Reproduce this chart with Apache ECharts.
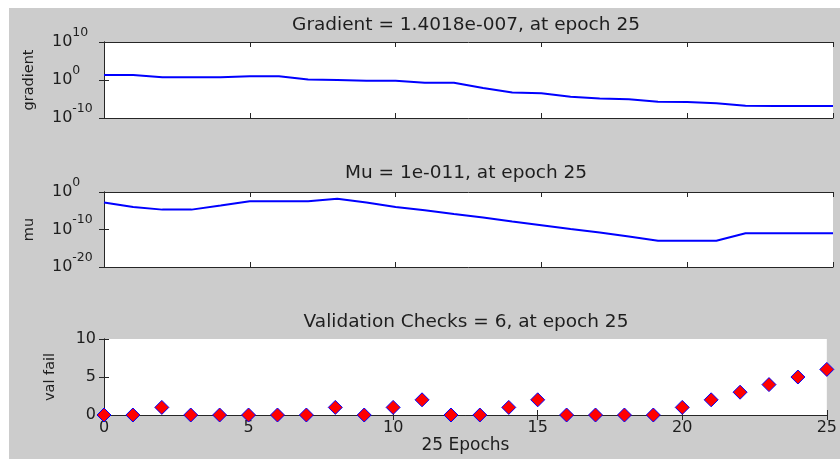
<!DOCTYPE html>
<html><head><meta charset="utf-8">
<script src="https://cdn.jsdelivr.net/npm/echarts@6/dist/echarts.min.js"></script>
<style>
html,body{margin:0;padding:0;background:#ffffff;width:840px;height:459px;overflow:hidden}
#c{position:absolute;left:9px;top:8px;width:831px;height:451px;background:#cccccc}
</style>
</head><body><div id="c"></div>
<script>
const epochs = [0,1,2,3,4,5,6,7,8,9,10,11,12,13,14,15,16,17,18,19,20,21,22,23,24,25];
const gradient = [20,20,5,5,5,10,10,1.3,1,0.63,0.63,0.2,0.2,0.008,5e-4,3.2e-4,4e-5,1.3e-5,8e-6,2e-6,1.6e-6,8e-7,1.6e-7,1.4018e-7,1.4018e-7,1.4018e-7];
const mu = [1.6e-3,1e-4,2e-5,2e-5,2.5e-4,3.2e-3,3.2e-3,3.2e-3,1.6e-2,1.6e-3,1e-4,1.3e-5,1.3e-6,1.6e-7,1.3e-8,1.3e-9,1.3e-10,1.6e-11,1.3e-12,1e-13,1e-13,1e-13,1e-11,1e-11,1e-11,1e-11];
const valFail = [0,0,1,0,0,0,0,0,1,0,1,2,0,0,1,2,0,0,0,0,1,2,3,4,5,6];
const titles = ['Gradient = 1.4018e-007, at epoch 25','Mu = 1e-011, at epoch 25','Validation Checks = 6, at epoch 25'];
const yNames = ['gradient','mu','val fail'];
const xName = '25 Epochs';

const FONT = 'DejaVu Sans';
const TXT = '#1e1e1e';
const AX = '#262626';
const chart = echarts.init(document.getElementById('c'), null, {renderer:'canvas'});

const grids = [
  {left:95, top:34, width:729, height:76},
  {left:95, top:184, width:729, height:75},
  {left:95, top:331, width:729, height:76}
].map(g => Object.assign({show:true, backgroundColor:'#ffffff', borderWidth:0, containLabel:false}, g));

function expLabel(v){
  const e = Math.round(Math.log10(v));
  return '{b|10}{s|' + e + '}';
}
const rich = {
  b:{fontSize:16, fontFamily:FONT, color:TXT, lineHeight:32},
  s:{fontSize:12.5, fontFamily:FONT, color:TXT, verticalAlign:'top'}
};

const xAxis = [], yAxis = [];
for (let i = 0; i < 3; i++) {
  const last = i === 2;
  const base = {type:'value', gridIndex:i, min:0, max:25, interval:5,
    axisLine:{show:true, lineStyle:{color:AX, width:1}},
    axisTick:{show:true, inside:true, length:5, lineStyle:{color:AX}},
    splitLine:{show:false}};
  xAxis.push(Object.assign({}, base, {position:'bottom',
    axisLabel:{show:last, margin:5, fontSize:16, fontFamily:FONT, color:TXT},
    name: last ? xName : '', nameLocation:'middle', nameGap:22,
    nameTextStyle:{fontSize:17, fontFamily:FONT, color:TXT}}));
  xAxis.push(Object.assign({}, base, {position:'top', axisLabel:{show:false}}));
}
const logRanges = [[1e-10,1e10],[1e-20,1]];
for (let i = 0; i < 3; i++) {
  let left, right;
  const common = {gridIndex:i, splitLine:{show:false},
    axisLine:{show:true, lineStyle:{color:AX, width:1}},
    axisTick:{show:true, inside:true, length:5, lineStyle:{color:AX}}};
  if (i < 2) {
    const r = logRanges[i];
    left = Object.assign({}, common, {type:'log', logBase:10, min:r[0], max:r[1], splitNumber:2, position:'left',
      axisLabel:{show:true, align:'left', margin:52, formatter:expLabel, rich:rich},
      name:yNames[i], nameLocation:'middle', nameGap:67, nameRotate:90,
      nameTextStyle:{fontSize:14.5, fontFamily:FONT, color:TXT}});
    right = Object.assign({}, common, {type:'log', logBase:10, min:r[0], max:r[1], splitNumber:2, position:'right', axisLabel:{show:false}});
  } else {
    left = Object.assign({}, common, {type:'value', min:0, max:10, interval:5, position:'left',
      axisLabel:{show:true, margin:8, fontSize:16, fontFamily:FONT, color:TXT},
      name:yNames[i], nameLocation:'middle', nameGap:46, nameRotate:90,
      nameTextStyle:{fontSize:14.5, fontFamily:FONT, color:TXT}});
    right = Object.assign({}, common, {type:'value', min:0, max:10, interval:5, position:'right', axisLabel:{show:false}});
  }
  yAxis.push(left, right);
}

const titleTops = [7.5, 155, 304];
const title = titles.map((t,i) => ({text:t, left:457, top:titleTops[i], textAlign:'center', padding:0,
  textStyle:{fontSize:18.5, fontWeight:'normal', fontFamily:FONT, color:TXT, lineHeight:20}}));

const lineStyle = {color:'#0000ff', width:2};
chart.setOption({
  animation:false,
  backgroundColor:'#cccccc',
  title:title,
  grid:grids,
  xAxis:xAxis,
  yAxis:yAxis,
  series:[
    {type:'line', xAxisIndex:0, yAxisIndex:0, showSymbol:false, lineStyle:lineStyle, itemStyle:{color:'#0000ff'},
      data:epochs.map((e,k)=>[e, gradient[k]])},
    {type:'line', xAxisIndex:2, yAxisIndex:2, showSymbol:false, lineStyle:lineStyle, itemStyle:{color:'#0000ff'},
      data:epochs.map((e,k)=>[e, mu[k]])},
    {type:'scatter', xAxisIndex:4, yAxisIndex:4, symbol:'diamond', symbolSize:[14,14], clip:false,
      itemStyle:{color:'#ff0000', borderColor:'#0000ff', borderWidth:1, opacity:1},
      data:epochs.map((e,k)=>[e, valFail[k]])}
  ]
});
</script></body></html>
